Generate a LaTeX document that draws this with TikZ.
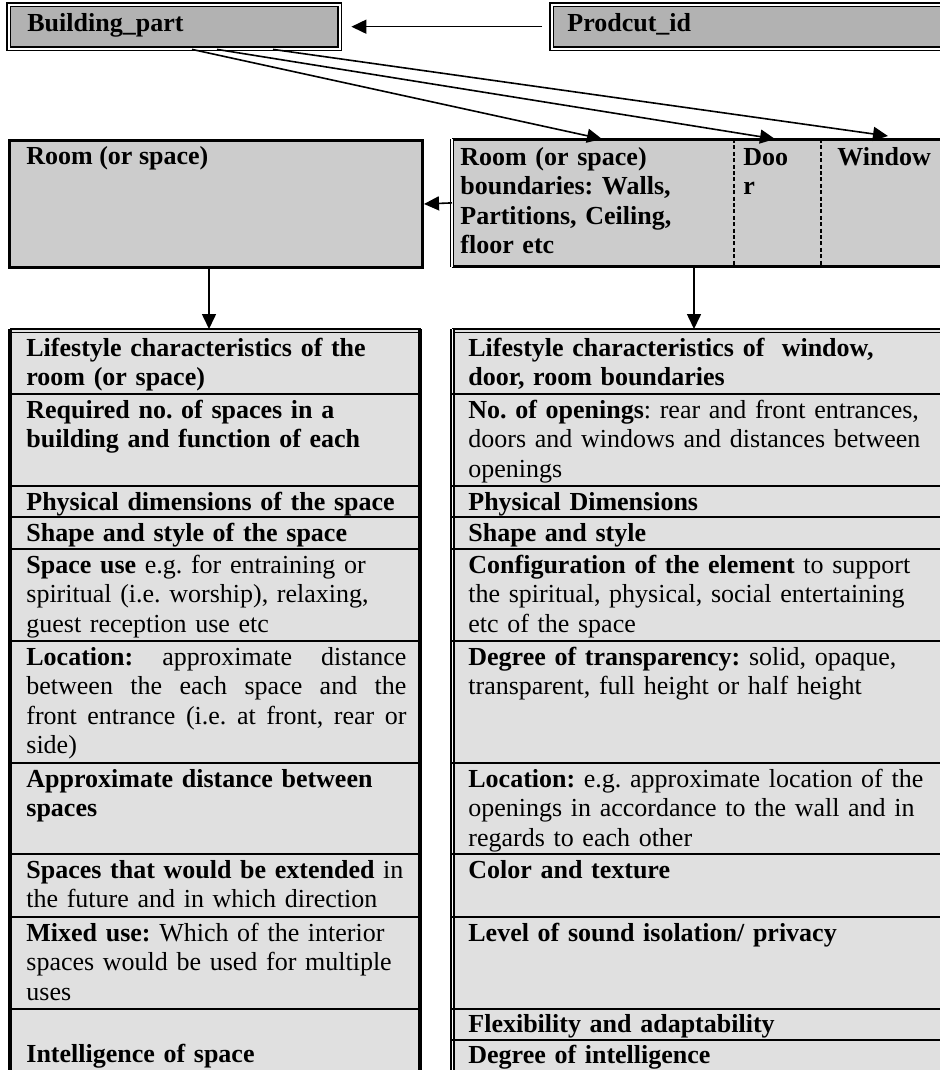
\documentclass[tikz,border=0pt]{standalone}
\usepackage{fontspec}
\setmainfont{Liberation Serif}
\usetikzlibrary{arrows.meta}
\frenchspacing

\definecolor{idgray}{gray}{0.70}
\definecolor{boxgray}{gray}{0.80}
\definecolor{cellgray}{gray}{0.88}

\begin{document}
\begin{tikzpicture}[x=0.5pt,y=-0.5pt,
  idbox/.style={draw, double, double distance=0.9pt, line width=0.7pt, fill=idgray, anchor=north west, inner sep=0},
  partbox/.style={fill=boxgray, anchor=north west, inner sep=0},
  tabbox/.style={fill=cellgray, anchor=north west, inner sep=0},
  txt/.style={anchor=base west, inner sep=0, align=left, font=\fontsize{13}{14.75}\selectfont},
  cell/.style={txt, text width=#1},
  arr/.style={-{Triangle[length=7.5pt,width=7pt]}, line width=0.8pt},
  rowline/.style={line width=1pt},
  divline/.style={line width=0.6pt, dash pattern=on 2pt off 1.2pt}]

\useasboundingbox (0,0) rectangle (940,1070);
\clip (0,0) rectangle (940,1070);

% top row
\node[idbox, minimum width=165.5pt, minimum height=22pt] (bpart) at (8,4) {};
\node[idbox, minimum width=205pt, minimum height=22pt] (prodid) at (551,4) {};
\node[txt] (bparttxt) at (27,32) {\textbf{Building\_part}};
\node[txt] (prodidtxt) at (567,32) {\textbf{Prodcut\_id}};

% second row
\node[partbox, draw, line width=1.5pt, minimum width=206.5pt, minimum height=63.5pt] (room) at (8,139) {};
\node[partbox, minimum width=250pt, minimum height=63.5pt] (bound) at (452,139) {};
\draw[line width=1.5pt] (bound.north west) -- (bound.north east);
\draw[line width=1.5pt] (bound.south west) -- (bound.south east);
\draw[double, double distance=0.9pt, line width=0.6pt] (bound.north west) -- (bound.south west);
\draw[divline] ([xshift=141pt]bound.north west) -- ([xshift=141pt]bound.south west);
\draw[divline] ([xshift=184.5pt]bound.north west) -- ([xshift=184.5pt]bound.south west);

\node[txt] (roomtxt) at (26,164) {\textbf{Room (or space)}};
\node[cell=135pt] (boundtxt) at (460,165) {\textbf{Room (or space)}\\\textbf{boundaries: Walls,}\\\textbf{Partitions, Ceiling,}\\\textbf{floor etc}};
\node[cell=38pt] (doortxt) at (743,165) {\textbf{Doo}\\\textbf{r}};
\node[txt] (windowtxt) at (837,165) {\textbf{Window}};

% tables
\node[tabbox, minimum width=205.5pt, minimum height=380pt] (ltab) at (10,329) {};
\node[tabbox, minimum width=250pt, minimum height=380pt] (rtab) at (452,329) {};

\draw[line width=0.6pt] (10,329) -- (421,329);
\draw[line width=0.6pt] (10,332.5) -- (421,332.5);
\draw[line width=1.6pt] (10,329) -- (10,1080);
\draw[line width=1.6pt] (420,329) -- (420,1080);
\foreach \y in {394,486,517,549,641,763,854,917}
{
\draw[rowline] (10,\y) -- (421,\y);
}
\draw[line width=0.6pt] (10,1009) -- (421,1009);

\draw[line width=0.6pt] (452,329) -- (950,329);
\draw[line width=0.6pt] (452,332.5) -- (950,332.5);
\draw[double, double distance=0.9pt, line width=0.6pt] (452.5,329) -- (452.5,1080);
\foreach \y in {394,486,517,549,641,763,854,917,1009,1040}
{
\draw[rowline] (452,\y) -- (950,\y);
}

% left table texts
\node[cell=190pt] (l1) at (26,356) {\textbf{Lifestyle characteristics of the}\\\textbf{room (or space)}};
\node[cell=190pt] (l2) at (26,418) {\textbf{Required no. of spaces in a}\\\textbf{building and function of each}};
\node[cell=190pt] (l3) at (26,510) {\textbf{Physical dimensions of the space}};
\node[cell=190pt] (l4) at (26,541) {\textbf{Shape and style of the space}};
\node[cell=190pt] (l5) at (26,573) {\textbf{Space use} e.g. for entraining or\\spiritual (i.e. worship), relaxing,\\guest reception use etc};
\node[cell=190pt] (l6) at (26,665) {\textbf{Location:}\hfill approximate\hfill distance\\between\hfill the\hfill each\hfill space\hfill and\hfill the\\front\hfill entrance\hfill (i.e.\hfill at\hfill front,\hfill rear\hfill or\\side)};
\node[cell=190pt] (l7) at (26,787) {\textbf{Approximate distance between}\\\textbf{spaces}};
\node[cell=190pt] (l8) at (26,878) {\textbf{Spaces that would be extended} in\\the future and in which direction};
\node[cell=190pt] (l9) at (26,941) {\textbf{Mixed use:} Which of the interior\\spaces would be used for multiple\\uses};
\node[cell=190pt] (l10) at (26,1062) {\textbf{Intelligence of space}};

% right table texts
\node[cell=240pt] (r1) at (468,356) {\textbf{Lifestyle characteristics of~ window,}\\\textbf{door, room boundaries}};
\node[cell=240pt] (r2) at (468,418) {\textbf{No. of openings}: rear and front entrances,\\doors and windows and distances between\\openings};
\node[cell=240pt] (r3) at (468,510) {\textbf{Physical Dimensions}};
\node[cell=240pt] (r4) at (468,541) {\textbf{Shape and style}};
\node[cell=240pt] (r5) at (468,573) {\textbf{Configuration of the element} to support\\the spiritual, physical, social entertaining\\etc of the space};
\node[cell=240pt] (r6) at (468,665) {\textbf{Degree of transparency:} solid, opaque,\\transparent, full height or half height};
\node[cell=240pt] (r7) at (468,787) {\textbf{Location:} e.g. approximate location of the\\openings in accordance to the wall and in\\regards to each other};
\node[cell=240pt] (r8) at (468,878) {\textbf{Color and texture}};
\node[cell=240pt] (r9) at (468,941) {\textbf{Level of sound isolation/ privacy}};
\node[cell=240pt] (r10) at (468,1032) {\textbf{Flexibility and adaptability}};
\node[cell=240pt] (r11) at (468,1063) {\textbf{Degree of intelligence}};

% connectors
\draw[arr] ([xshift=-4.5pt]prodid.west) -- ([xshift=5.5pt]bpart.east);
\draw[arr] ([xshift=92pt]bpart.south west) -- ([xshift=75pt]bound.north west);
\draw[arr] ([xshift=104.5pt]bpart.south west) -- ([xshift=161.5pt]bound.north west);
\draw[arr] ([xshift=132.5pt]bpart.south west) -- ([xshift=218pt,yshift=1.5pt]bound.north west);
\draw[arr] (bound.west) -- (room.east);
\draw[arr] ([xshift=-3.5pt]room.south) -- ([xshift=-3.5pt]room.south |- ltab.north);
\draw[arr] ([xshift=121pt]bound.south west) -- ([xshift=121pt]bound.south west |- rtab.north);

\end{tikzpicture}
\end{document}
